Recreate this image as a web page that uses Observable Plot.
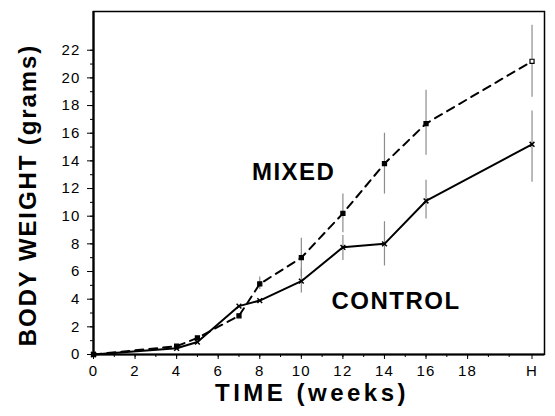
<!DOCTYPE html>
<html>
<head>
<meta charset="utf-8">
<script src="https://cdn.jsdelivr.net/npm/d3@7"></script>
<script src="https://cdn.jsdelivr.net/npm/@observablehq/plot@0.6"></script>
<style>
  html, body { margin: 0; padding: 0; background: white; }
</style>
</head>
<body>
<div id="chart"></div>
<script>
// ---- data ----
const weeks = [0, 4, 5, 7, 8, 10, 12, 14, 16, "H"];
const controlWeight = [0, 0.45, 0.9, 3.5, 3.9, 5.3, 7.75, 8.0, 11.1, 15.2];
const mixedWeight = [0, 0.6, 1.2, 2.8, 5.1, 7.0, 10.2, 13.8, 16.7, 21.2];

const mixedErrWeeks = [8, 10, 12, 14, 16, "H"];
const mixedLow = [4.7, 5.6, 8.8, 11.6, 14.4, 18.6];
const mixedHigh = [5.6, 8.4, 11.6, 16.0, 19.1, 23.8];

const controlErrWeeks = [10, 12, 14, 16, "H"];
const controlLow = [4.45, 6.8, 6.4, 9.8, 12.45];
const controlHigh = [6.2, 8.6, 9.6, 12.6, 17.6];

const xTickWeeks = [0, 2, 4, 6, 8, 10, 12, 14, 16, 18, "H"];
const yTicks = [0, 2, 4, 6, 8, 10, 12, 14, 16, 18, 20, 22];
const seriesLabels = ["MIXED", "CONTROL"];
const seriesLabelWeek = [9.63, 14.56];
const seriesLabelWeight = [13.16, 3.88];
const xTitle = "TIME (weeks)";
const yTitle = "BODY WEIGHT (grams)";

const H_WEEK = 21.1; // where "H" (harvest) sits on the time axis
const wk = w => (w === "H" ? H_WEEK : w);

const control = weeks.map((w, i) => ({week: w, x: wk(w), y: controlWeight[i]}));
const mixed = weeks.map((w, i) => ({week: w, x: wk(w), y: mixedWeight[i]}));
const errs = [
  ...mixedErrWeeks.map((w, i) => ({x: wk(w), lo: mixedLow[i], hi: mixedHigh[i]})),
  ...controlErrWeeks.map((w, i) => ({x: wk(w), lo: controlLow[i], hi: controlHigh[i]}))
];
const labels = seriesLabels.map((t, i) => ({t, x: seriesLabelWeek[i], y: seriesLabelWeight[i]}));
const minorX = d3.range(0, 21);
const minorY = d3.range(0, 23);

const chart = Plot.plot({
  width: 555,
  height: 416,
  marginLeft: 93,
  marginRight: 11,
  marginTop: 11,
  marginBottom: 62,
  style: {fontFamily: "'Liberation Sans', Arial, sans-serif", fontSize: "15px", color: "black", background: "white"},
  x: {
    domain: [0, 21.7],
    ticks: xTickWeeks.map(wk),
    tickFormat: d => (d === H_WEEK ? "H" : String(d)),
    tickSize: 5,
    tickPadding: 6,
    label: null
  },
  y: {
    domain: [0, 24.8],
    ticks: yTicks,
    tickSize: 6,
    tickPadding: 7,
    label: null
  },
  marks: [
    Plot.frame({stroke: "black", strokeWidth: 1.5}),
    Plot.ruleX(minorX, {x: d => d, y1: 0, y2: 0, insetTop: 3, stroke: "black"}),
    Plot.ruleY(minorY, {y: d => d, x1: 0, x2: 0, insetLeft: -3, stroke: "black"}),
    Plot.ruleX(errs, {x: "x", y1: "lo", y2: "hi", stroke: "#8c8c8c", strokeWidth: 1.2}),
    Plot.line(control, {x: "x", y: "y", stroke: "black", strokeWidth: 2}),
    Plot.line(mixed, {x: "x", y: "y", stroke: "black", strokeWidth: 2, strokeDasharray: "8,6"}),
    Plot.dot(mixed, {x: "x", y: "y", symbol: "square", r: 2.3,
      fill: d => (d.week === "H" ? "white" : "black"), stroke: "black", strokeWidth: 1.2}),
    Plot.dot(control, {x: "x", y: "y", symbol: "times", r: 2.3, stroke: "black", strokeWidth: 1.5}),
    Plot.ruleY([0], {stroke: "black", strokeWidth: 2.2}),
    Plot.ruleX([0], {stroke: "black", strokeWidth: 2.2}),
    Plot.text(labels, {x: "x", y: "y", text: "t", fontSize: 24, fontWeight: "bold", fill: "black"}),
    Plot.text([xTitle], {frameAnchor: "bottom", textAnchor: "middle", dx: -7, dy: 46, fontSize: 24, fontWeight: "bold", fill: "black"}),
    Plot.text([yTitle], {frameAnchor: "left", textAnchor: "middle", rotate: -90, dx: -65, dy: 12, fontSize: 24, fontWeight: "bold", fill: "black"})
  ]
});

// letter spacing, as in the typewriter-era original
const spacing = new Map([[yTitle, "1.9px"], [xTitle, "3.5px"], ["MIXED", "1.5px"], ["CONTROL", "1.5px"]]);
d3.select(chart).selectAll("text").each(function () {
  const t = this.textContent;
  this.style.letterSpacing = spacing.has(t) ? spacing.get(t) : "1.2px";
});
document.getElementById("chart").appendChild(chart);
</script>
</body>
</html>
